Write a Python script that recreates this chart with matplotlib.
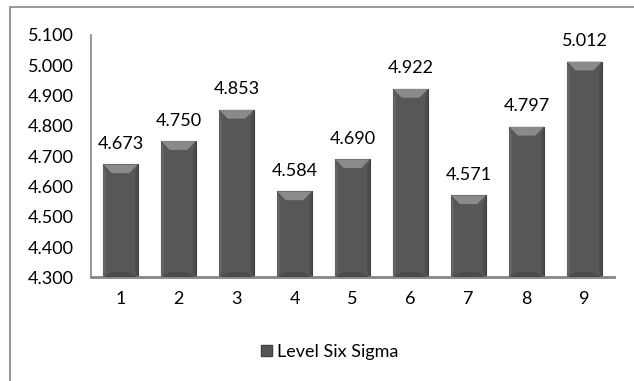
import matplotlib.pyplot as plt
from matplotlib.patches import Rectangle, Polygon

categories = ["1", "2", "3", "4", "5", "6", "7", "8", "9"]
values = [4.673, 4.750, 4.853, 4.584, 4.690, 4.922, 4.571, 4.797, 5.012]
yticks = [4.3, 4.4, 4.5, 4.6, 4.7, 4.8, 4.9, 5.0, 5.1]
series_name = "Level Six Sigma"

plt.rcParams['font.family'] = ['Lato', 'DejaVu Sans']

fig = plt.figure(figsize=(6.34, 3.81), dpi=100)
ax = fig.add_axes([0.1443, 0.2717, 0.8234, 0.6365])

ymin, ymax = 4.3, 5.1
w = 0.6
x = list(range(len(categories)))
ax.bar(x, [v - ymin for v in values], bottom=ymin, width=w,
       color='#575757', edgecolor='#404040', linewidth=0.8, zorder=2)

# bevel effect on each bar
bx = 0.15
by = 0.029
for xi, v in zip(x, values):
    l, r = xi - w / 2, xi + w / 2
    top = Polygon([(l, v), (r, v), (r - bx, v - by), (l + bx, v - by)],
                  closed=True, facecolor='#8a8a8a', edgecolor='none', zorder=3)
    bot = Polygon([(l, ymin), (r, ymin), (r - bx, ymin + by * 0.6), (l + bx, ymin + by * 0.6)],
                  closed=True, facecolor='#4b4b4b', edgecolor='none', zorder=3)
    left = Polygon([(l, v), (l + bx * 0.3, v - by), (l + bx * 0.3, ymin + by * 0.6), (l, ymin)],
                   closed=True, facecolor='#666666', edgecolor='none', zorder=3)
    right = Polygon([(r, v), (r - bx * 0.3, v - by), (r - bx * 0.3, ymin + by * 0.6), (r, ymin)],
                    closed=True, facecolor='#4a4a4a', edgecolor='none', zorder=3)
    for p in (top, bot, left, right):
        ax.add_patch(p)
    ax.annotate(f"{v:.3f}", (xi, v), xytext=(0, 9), textcoords='offset points',
                ha='center', va='bottom', fontsize=13, color='#000000')

ax.set_xlim(-0.5, len(categories) - 0.5)
ax.set_ylim(ymin, ymax)
ax.set_yticks(yticks)
ax.set_yticklabels([f"{t:.3f}" for t in yticks])
ax.set_xticks(x)
ax.set_xticklabels(categories)
ax.tick_params(axis='y', length=0, pad=13, labelsize=13)
ax.tick_params(axis='x', length=0, pad=10, labelsize=13)

for s in ('top', 'right'):
    ax.spines[s].set_visible(False)
ax.spines['left'].set_color('#868686')
ax.spines['bottom'].set_color('#868686')
ax.spines['left'].set_linewidth(1.2)
ax.spines['bottom'].set_linewidth(2)

# outer chart frame (cropped on right and bottom)
fig.patches.append(Rectangle((10 / 634, -0.05), 1.0, 1 - 7 / 381 + 0.05,
                             transform=fig.transFigure, fill=False,
                             edgecolor='#868686', linewidth=1.2))

handle = Rectangle((0, 0), 1, 1, facecolor='#575757', edgecolor='#404040')
fig.legend([handle], [series_name], loc='center', bbox_to_anchor=(0.52, 1 - 352 / 381),
           frameon=False, fontsize=13, handlelength=0.6, handleheight=0.6,
           handletextpad=0.3)

fig.savefig('out.png', dpi=100)
